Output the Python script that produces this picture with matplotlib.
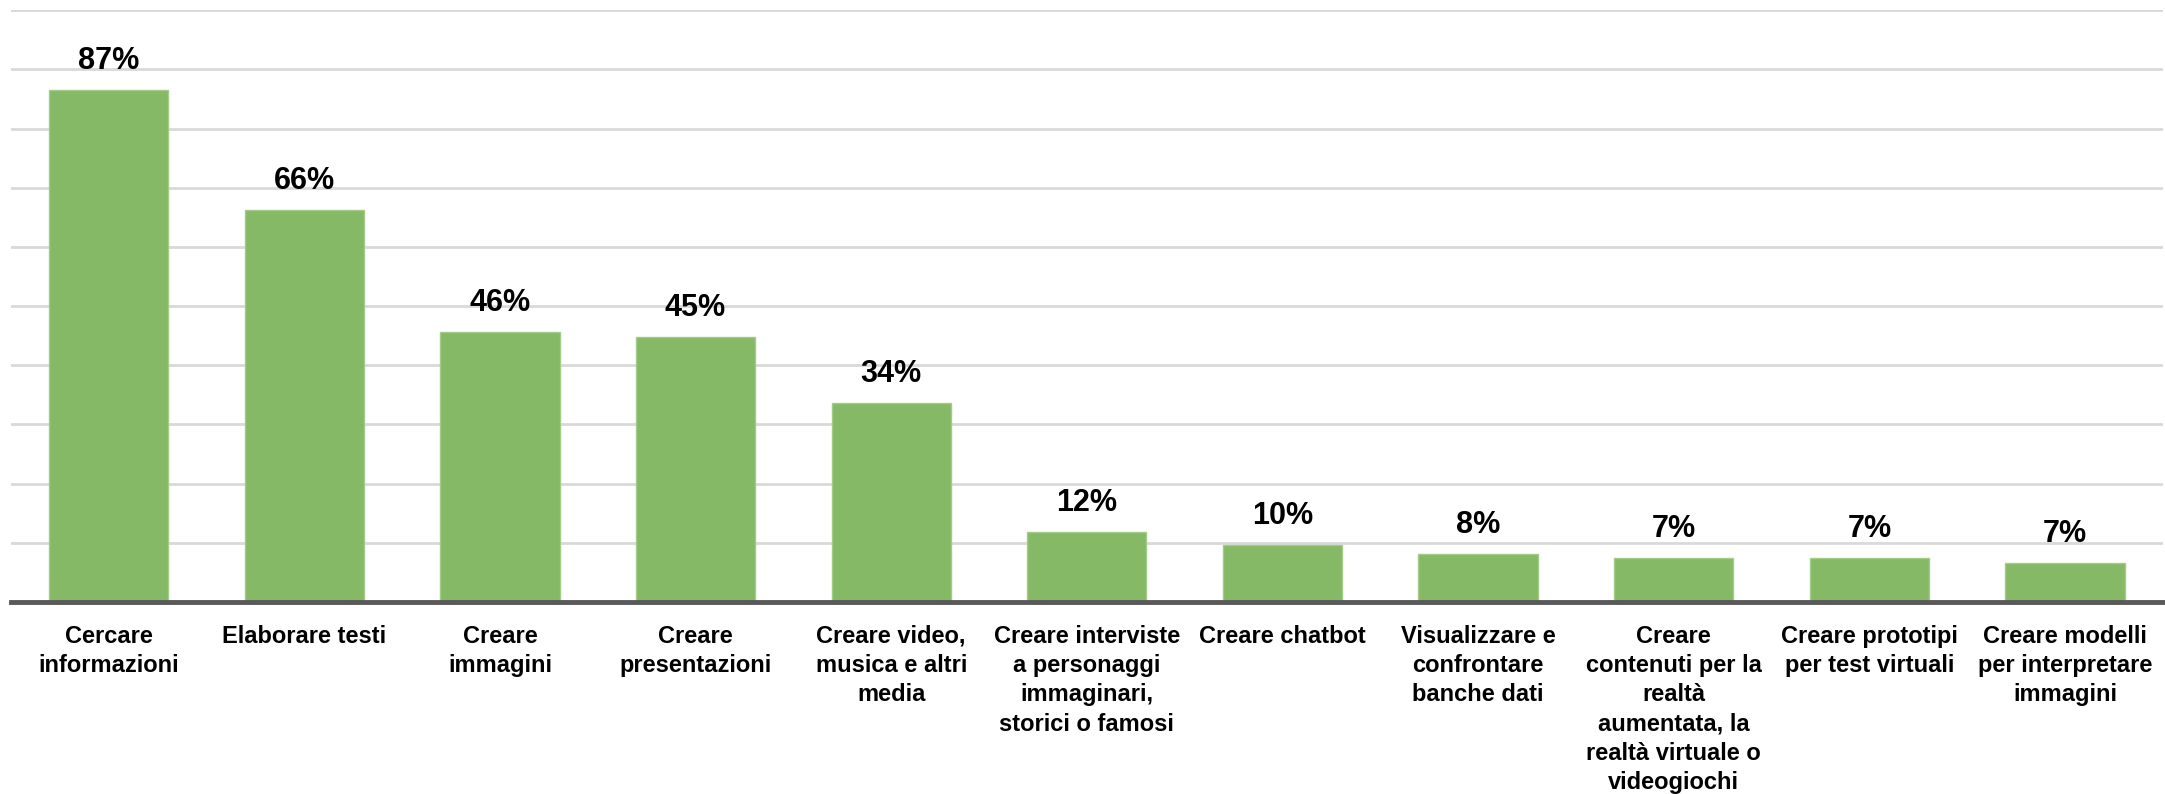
import numpy as np
import matplotlib.pyplot as plt

categories = [
    "Cercare\ninformazioni",
    "Elaborare testi",
    "Creare\nimmagini",
    "Creare\npresentazioni",
    "Creare video,\nmusica e altri\nmedia",
    "Creare interviste\na personaggi\nimmaginari,\nstorici o famosi",
    "Creare chatbot",
    "Visualizzare e\nconfrontare\nbanche dati",
    "Creare\ncontenuti per la\nrealtà\naumentata, la\nrealtà virtuale o\nvideogiochi",
    "Creare prototipi\nper test virtuali",
    "Creare modelli\nper interpretare\nimmagini",
]
values = [86.6, 66.2, 45.6, 44.8, 33.6, 11.8, 9.6, 8.1, 7.4, 7.4, 6.6]
labels = ["87%", "66%", "46%", "45%", "34%", "12%", "10%", "8%", "7%", "7%", "7%"]

fig = plt.figure(figsize=(21.65, 7.94), dpi=100)
ax = fig.add_axes([0.005, 0.242, 0.994, 0.745])

x = np.arange(len(values))
bars = ax.bar(x, values, width=0.61, color="#86b965", edgecolor="#a3cc88",
              linewidth=1, zorder=3)

for xi, v, lab in zip(x, values, labels):
    ax.annotate(lab, (xi, v), xytext=(0, 10), textcoords="offset points",
                ha="center", va="bottom", fontsize=22, fontweight="bold",
                family="Liberation Sans", color="black")

ax.set_xlim(-0.5, len(values) - 0.5)
ax.set_ylim(0, 100)
ax.set_yticks(np.arange(10, 101, 10))
ax.yaxis.grid(True, color="#d9d9d9", linewidth=2, zorder=0)
ax.tick_params(axis="y", left=False, labelleft=False)

ax.set_xticks(x)
ax.set_xticklabels(categories, fontsize=17, fontweight="bold",
                   family="Liberation Sans", linespacing=1.35)
ax.tick_params(axis="x", bottom=False, pad=13)

for side in ["top", "right", "left"]:
    ax.spines[side].set_visible(False)
ax.spines["bottom"].set_color("#595959")
ax.spines["bottom"].set_linewidth(3.5)
ax.spines["bottom"].set_zorder(4)

plt.savefig("out.png", dpi=100)
